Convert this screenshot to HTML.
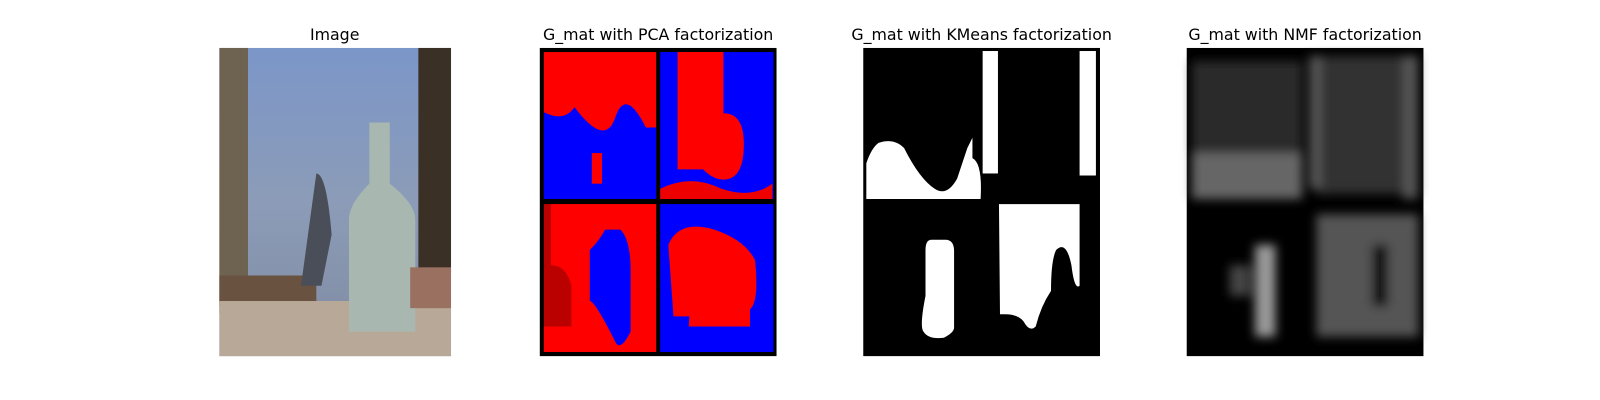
<!DOCTYPE html>
<html><head><meta charset="utf-8"><style>
body{margin:0;background:#fff;width:1600px;height:400px;overflow:hidden}
svg{display:block}
text{font-family:"DejaVu Sans","Liberation Sans",sans-serif;font-size:15.5px;fill:#000}
</style></head><body>
<svg width="1600" height="400">
<defs>
<filter id="blur6"><feGaussianBlur stdDeviation="5"/></filter>
<linearGradient id="sky" x1="0" y1="0" x2="0" y2="1">
<stop offset="0" stop-color="#7b96c8"/><stop offset="0.5" stop-color="#8c9cb8"/><stop offset="1" stop-color="#7f8aa0"/></linearGradient>
</defs>
<g transform="scale(1.0204)">
<text x="328" y="39" text-anchor="middle">Image</text>
<text x="645" y="39" text-anchor="middle">G_mat with PCA factorization</text>
<text x="962" y="39" text-anchor="middle">G_mat with KMeans factorization</text>
<text x="1279" y="39" text-anchor="middle">G_mat with NMF factorization</text>

<g>
<rect x="215" y="47" width="227" height="302" fill="url(#sky)"/>
<rect x="215" y="47" width="28" height="260" fill="#6e6250"/>
<rect x="410" y="47" width="32" height="220" fill="#3a3025"/>
<rect x="215" y="270" width="95" height="30" fill="#6a5240"/>
<rect x="215" y="295" width="227" height="54" fill="#b8a898"/>
<path d="M310 170 q10 0 15 60 l-10 50 -20 0 z" fill="#4a4e58"/>
<path d="M362 120 h20 v60 q25 20 25 35 v110 h-65 v-110 q0-15 20-35 z" fill="#a8b8b0"/>
<rect x="402" y="262" width="40" height="40" fill="#9a7060"/>
</g>

<g>
<rect x="529" y="47" width="232" height="302" fill="#000"/>
<rect x="533" y="51" width="110" height="144" fill="#f00"/>
<path d="M533 110 q20 10 30 -5 q30 40 40 10 q10 -30 30 10 l10 0 v70 h-110 z" fill="#00f"/>
<rect x="580" y="150" width="10" height="30" fill="#f00"/>
<rect x="647" y="51" width="111" height="144" fill="#00f"/>
<path d="M664 51 h45 v60 q20 0 20 30 q0 35 -20 35 q-10 0 -20 -10 h-25 z" fill="#f00"/>
<path d="M647 185 q30 -15 60 0 q30 10 50 -5 v15 h-110 z" fill="#e00"/>
<rect x="533" y="200" width="110" height="145" fill="#b00"/>
<path d="M540 200 v60 q15 0 20 20 v40 h-27 v25 h110 v-145 z" fill="#f00"/>
<path d="M578 245 q10 -10 15 -20 h15 q10 10 10 40 v60 q-10 20 -15 10 q-20 -40 -25 -40 z" fill="#00f"/>
<rect x="647" y="200" width="111" height="145" fill="#00f"/>
<path d="M655 240 q10 -25 45 -15 q30 10 40 30 q5 50 -10 50 q-30 0 -40 5 h-30 z" fill="#f00"/>
<path d="M680 240 q40 -5 55 20 l0 60 l-60 0 z" fill="#f00"/>
</g>

<g>
<rect x="846" y="47" width="232" height="302" fill="#000"/>
<path d="M849 195 v-35 q5 -15 12 -20 q15 -5 25 5 q15 30 30 40 q12 8 22 -10 l10 -30 l5 -10 v20 q10 5 8 40 z" fill="#fff"/>
<rect x="963" y="50" width="15" height="120" fill="#fff"/>
<rect x="1058" y="50" width="16" height="122" fill="#fff"/>
<path d="M913 235 q-6 0 -6 10 v45 q-6 30 -2 35 q5 8 20 6 q10 -5 10 -10 v-75 q0 -12 -10 -11 z" fill="#fff"/>
<path d="M979 200 h79 v80 q-5 5 -8 -20 q-5 -25 -15 -15 q-5 10 -5 40 q-10 15 -15 35 q-5 5 -10 -2 q-5 -10 -20 -10 h-5 z" fill="#fff"/>
</g>

<g>
<rect x="1163" y="47" width="232" height="302" fill="#000"/>
<g filter="url(#blur6)">
<rect x="1168" y="60" width="108" height="120" fill="#2a2a2a"/>
<rect x="1168" y="150" width="108" height="45" fill="#666"/>
<rect x="1290" y="55" width="100" height="135" fill="#333"/>
<rect x="1283" y="55" width="12" height="130" fill="#555"/>
<rect x="1375" y="55" width="14" height="140" fill="#555"/>
<rect x="1230" y="240" width="20" height="90" fill="#999"/>
<rect x="1205" y="260" width="20" height="30" fill="#444"/>
<rect x="1290" y="210" width="100" height="120" fill="#555"/>
<rect x="1345" y="240" width="15" height="60" fill="#111"/>
</g>
</g>
</g>
</svg>
</body></html>
